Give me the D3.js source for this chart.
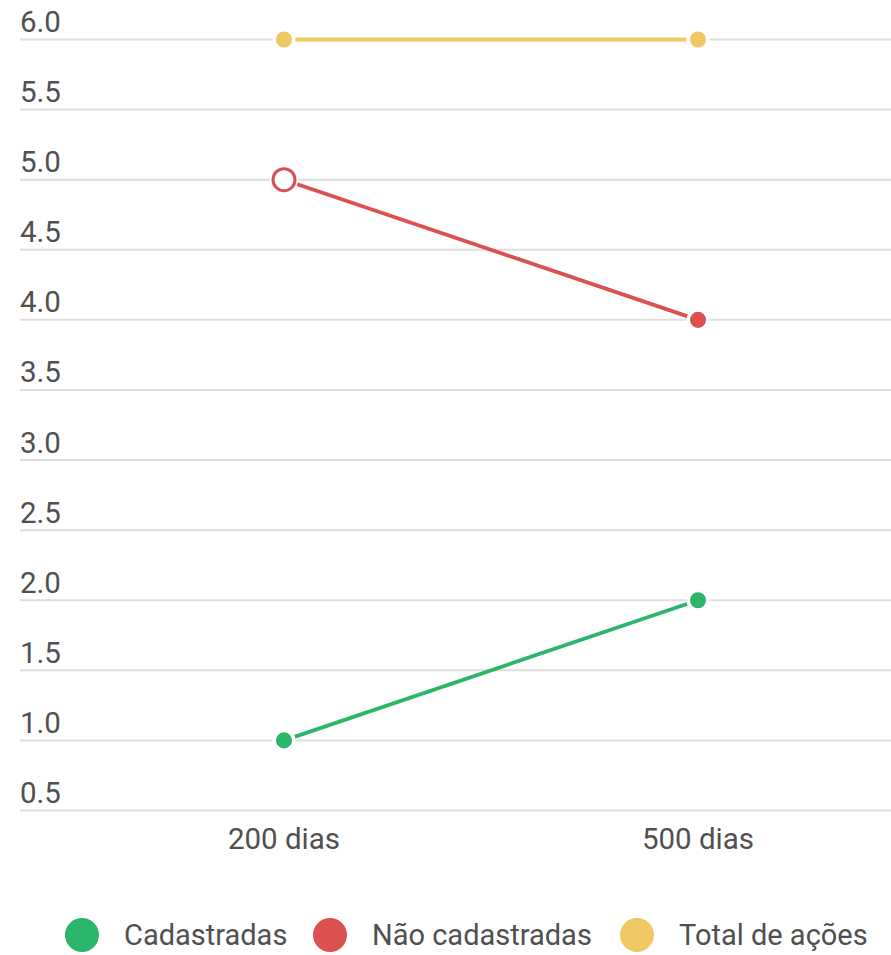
<!DOCTYPE html>
<html><head><meta charset="utf-8">
<script src="https://cdn.jsdelivr.net/npm/d3@7"></script>
<style>body{margin:0;background:#fff}svg{display:block}</style>
</head><body>
<svg id="c" width="891" height="955"></svg>
<script>
const categories = ["200 dias", "500 dias"];
const seriesNames = ["Cadastradas", "Não cadastradas", "Total de ações"];
const cadastradas = [1, 2];
const naoCadastradas = [5, 4];
const totalAcoes = [6, 6];
const yTicks = [0.5, 1.0, 1.5, 2.0, 2.5, 3.0, 3.5, 4.0, 4.5, 5.0, 5.5, 6.0];
const colors = ["#2bb66b", "#dc5050", "#f0c864"];
const hollow = [[], [0], []];

const series = [cadastradas, naoCadastradas, totalAcoes];
const svg = d3.select("#c");
const x = d3.scalePoint().domain(categories).range([284, 698]);
const y = d3.scaleLinear().domain([0.5, 6.0]).range([810.5, 39.5]);

const font = "Roboto, 'Noto Sans', sans-serif";
const grid = svg.append("g");
yTicks.forEach(t => {
  grid.append("line").attr("x1", 20).attr("x2", 891)
    .attr("y1", y(t)).attr("y2", y(t))
    .attr("stroke", "#dedede").attr("stroke-width", 2);
  grid.append("text").attr("x", 20).attr("y", y(t) - 7.5)
    .attr("font-family", font).attr("font-size", 29.5).attr("fill", "#505050")
    .text(t.toFixed(1));
});

categories.forEach(c => {
  svg.append("text").attr("x", x(c)).attr("y", 849)
    .attr("text-anchor", "middle").attr("font-family", font)
    .attr("font-size", 29.5).attr("fill", "#505050").text(c);
});

const line = d3.line().x((d, i) => x(categories[i])).y(d => y(d));
series.forEach((s, k) => {
  svg.append("path").datum(s).attr("d", line).attr("fill", "none")
    .attr("stroke", colors[k]).attr("stroke-width", 3.8);
});
series.forEach((s, k) => {
  s.forEach((v, i) => {
    const isHollow = hollow[k].includes(i);
    if (isHollow) {
      svg.append("circle").attr("cx", x(categories[i])).attr("cy", y(v)).attr("r", 14).attr("fill", "#fff");
      svg.append("circle").attr("cx", x(categories[i])).attr("cy", y(v)).attr("r", 11)
        .attr("fill", "#fff").attr("stroke", colors[k]).attr("stroke-width", 3);
    } else {
      svg.append("circle").attr("cx", x(categories[i])).attr("cy", y(v)).attr("r", 9.8)
        .attr("fill", colors[k]).attr("stroke", "#fff").attr("stroke-width", 3.5);
    }
  });
});

const legX = [82, 330, 637];
seriesNames.forEach((n, k) => {
  svg.append("circle").attr("cx", legX[k]).attr("cy", 935).attr("r", 17).attr("fill", colors[k]);
  svg.append("text").attr("x", legX[k] + 42).attr("y", 945)
    .attr("font-family", font).attr("font-size", 29).attr("fill", "#505050").text(n);
});
</script>
</body></html>
